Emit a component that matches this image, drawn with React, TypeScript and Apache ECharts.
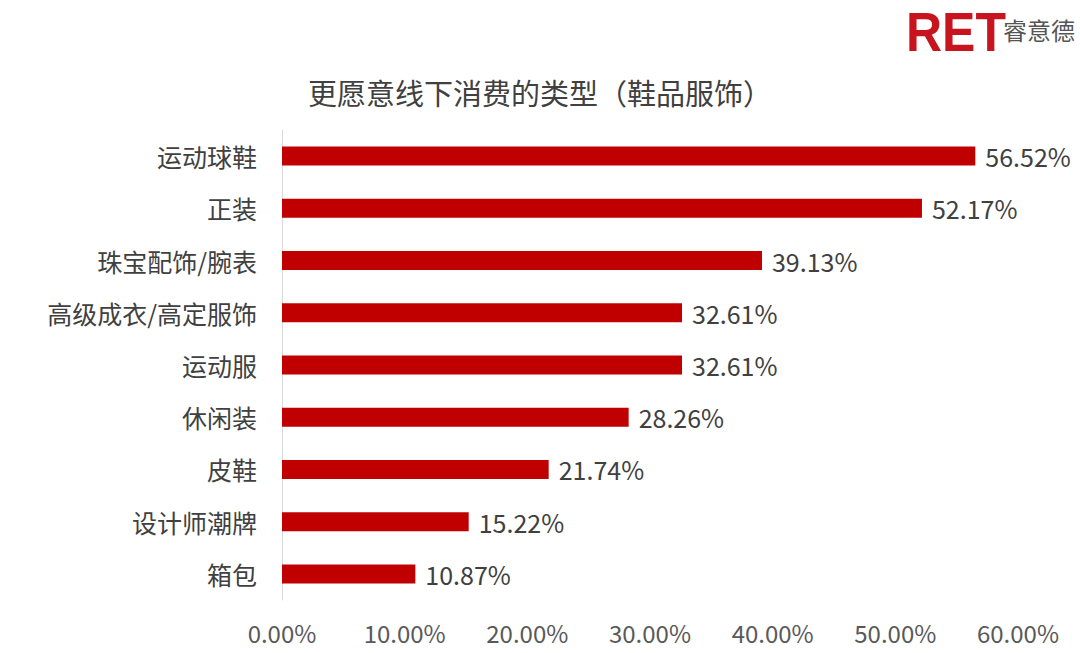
import React, { useEffect, useRef } from "react";
import * as echarts from "echarts";

const categories = ["运动球鞋", "正装", "珠宝配饰/腕表", "高级成衣/高定服饰", "运动服", "休闲装", "皮鞋", "设计师潮牌", "箱包"];
const values = [56.52, 52.17, 39.13, 32.61, 32.61, 28.26, 21.74, 15.22, 10.87];
const titleText = "更愿意线下消费的类型（鞋品服饰）";

const FONT = "'Noto Sans CJK SC', 'Noto Sans', sans-serif";

export default function App() {
  const ref = useRef<HTMLDivElement>(null);
  useEffect(() => {
    if (!ref.current) return;
    const chart = echarts.init(ref.current, undefined, { renderer: "svg" });
    chart.setOption({
      animation: false,
      backgroundColor: "#ffffff",
      textStyle: { fontFamily: FONT },
      title: {
        text: titleText,
        left: "center",
        top: 72,
        textStyle: { fontSize: 29, fontWeight: "normal", color: "#404040", fontFamily: FONT },
      },
      graphic: [
        {
          type: "text",
          x: 906,
          y: 3,
          scaleY: 1.12,
          style: { text: "RET", fontSize: 50, fontWeight: "bold", fill: "#c8141e", fontFamily: "'Liberation Sans', Arial, sans-serif", textVerticalAlign: "top" },
        },
        {
          type: "text",
          left: 1003,
          top: 17,
          style: { text: "睿意德", fontSize: 24, fill: "#555555", fontFamily: FONT },
        },
      ],
      grid: { left: 282, right: 62, top: 130, bottom: 53, containLabel: false },
      xAxis: {
        type: "value",
        min: 0,
        max: 60,
        interval: 10,
        axisLine: { show: false },
        axisTick: { show: false },
        splitLine: { show: false },
        axisLabel: {
          formatter: (v: number) => v.toFixed(2) + "%",
          fontSize: 24,
          color: "#595959",
          margin: 20,
          fontFamily: FONT,
        },
      },
      yAxis: {
        type: "category",
        data: categories,
        inverse: true,
        axisLine: { show: true, lineStyle: { color: "#d9d9d9", width: 1 } },
        axisTick: { show: false },
        axisLabel: { fontSize: 25, color: "#404040", margin: 25, fontFamily: FONT },
      },
      series: [
        {
          type: "bar",
          data: values,
          barWidth: 19,
          itemStyle: { color: "#c00000" },
          label: {
            show: true,
            position: "right",
            distance: 10,
            formatter: (p: any) => p.value.toFixed(2) + "%",
            fontSize: 25,
            color: "#404040",
            fontFamily: FONT,
          },
        },
      ],
    });
    return () => chart.dispose();
  }, []);
  return <div ref={ref} style={{ position: "fixed", left: 0, top: 0, width: 1080, height: 653 }} />;
}
